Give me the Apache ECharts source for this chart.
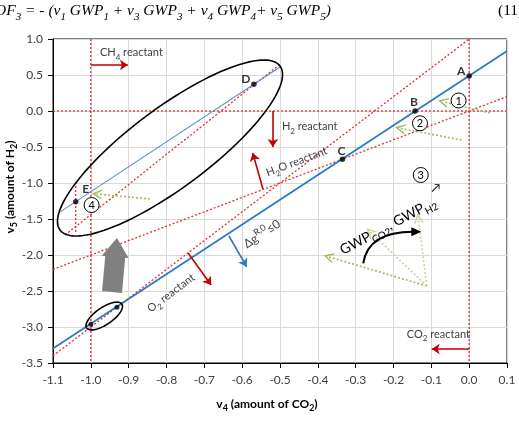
<!DOCTYPE html>
<html>
<head>
<meta charset="utf-8">
<script src="https://cdn.jsdelivr.net/npm/echarts@6/dist/echarts.min.js"></script>
<style>
html,body{margin:0;padding:0;background:#ffffff;}
#chart{width:519px;height:423px;}
</style>
</head>
<body>
<div id="chart"></div>
<script>
// ---------- axes ----------
const xTickLabels = ['-1.1','-1.0','-0.9','-0.8','-0.7','-0.6','-0.5','-0.4','-0.3','-0.2','-0.1','0.0','0.1'];
const yTickLabels = ['-3.5','-3.0','-2.5','-2.0','-1.5','-1.0','-0.5','0.0','0.5','1.0'];
const xMin = -1.1, xMax = 0.1, xStep = 0.1;
const yMin = -3.5, yMax = 1.0, yStep = 0.5;

// ---------- labelled points (nu4, nu5) ----------
const pointNames = ['A', 'B', 'C', 'D', 'E'];
const pointX = [0.000, -0.143, -0.335, -0.569, -1.040];
const pointY = [0.486, 0.000, -0.671, 0.371, -1.260];
const smallPointX = [-1.000, -0.931];
const smallPointY = [-2.962, -2.726];

// ---------- delta-g = 0 lines (blue) ----------
const dgLineX = [-1.1, 0.1];
const dgLineY = [-3.30, 0.835];
const dgLine2X = [-1.08, -0.50];
const dgLine2Y = [-1.398, 0.610];

// ---------- reactant boundaries (red dotted) ----------
const h2BoundX = [-1.1, 0.1],      h2BoundY = [0.0, 0.0];
const ch4BoundX = [-1.0, -1.0],    ch4BoundY = [1.0, -3.5];
const co2BoundX = [0.0, 0.0],      co2BoundY = [1.0, -3.5];
const h2oBoundX = [-1.1, 0.1],     h2oBoundY = [-2.2, 0.2];
const o2BoundX = [-1.1, 0.0],      o2BoundY = [-3.4, 1.0];
const case4BoundX = [-1.068, -0.503], case4BoundY = [-1.722, 0.639];
const eBoundX = [-1.040, -1.040],  eBoundY = [-0.986, -1.694];

// ---------- red arrows: CH4, H2, H2O, O2, CO2 ----------
const redArrowX1 = [-1.000, -0.519, -0.545, -0.743, 0.000];
const redArrowY1 = [0.639, 0.000, -1.083, -1.972, -3.306];
const redArrowX2 = [-0.902, -0.519, -0.572, -0.682, -0.099];
const redArrowY2 = [0.639, -0.500, -0.583, -2.417, -3.306];

// ---------- blue arrow (delta g <= 0 side) ----------
const blueArrowX = [-0.635, -0.588];
const blueArrowY = [-1.736, -2.163];

// ---------- green dotted arrows: 1, 2, 4 ----------
const greenArrowX1 = [0.055, -0.020, -0.844];
const greenArrowY1 = [-0.028, -0.403, -1.222];
const greenArrowX2 = [-0.069, -0.183, -0.9845];
const greenArrowY2 = [0.129, -0.240, -1.153];

// ---------- GWP fan ----------
const gwpOriginX = -0.112, gwpOriginY = -2.431;
const gwpTipX = [-0.372, -0.262, -0.1344];
const gwpTipY = [-2.024, -1.676, -1.490];

// ---------- annotations ----------
const ellipses = [
  {x1: -1.0815, y1: -1.653, x2: -0.500, y2: 0.625, ratio: 0.29},
  {x1: -1.011, y1: -3.014, x2: -0.918, y2: -2.681, ratio: 0.40}
];
const grayArrow = {x1: -0.944, y1: -2.514, x2: -0.931, y2: -1.764};
const blackCurve = {x1: -0.280, y1: -2.115, cx: -0.2674, cy: -1.676, x2: -0.1344, y2: -1.676};
const circledNums = [
  {t: '1', x: -0.028, y: 0.146},
  {t: '2', x: -0.130, y: -0.171},
  {t: '3', x: -0.128, y: -0.889},
  {t: '4', x: -0.998, y: -1.306}
];
const notes = [
  {text: '{n|CH}{s|4}{n| reactant}', x: -0.976, y: 0.810, rot: 0, align: 'left', size: 11},
  {text: '{n|H}{s|2}{n| reactant}', x: -0.495, y: -0.218, rot: 0, align: 'left', size: 11},
  {text: '{n|H}{s|2}{n|O reactant}', x: -0.456, y: -0.704, rot: 20.8, align: 'center', size: 11},
  {text: '{n|O}{s|2}{n| reactant}', x: -0.788, y: -2.528, rot: 37, align: 'center', size: 11},
  {text: '{n|CO}{s|2}{n| reactant}', x: -0.165, y: -3.101, rot: 0, align: 'left', size: 11},
  {text: '{n|\u0394g}{p|R,0}{n|\u22640}', x: -0.5476, y: -1.708, rot: 33.5, align: 'center', size: 12},
  {text: '{n|GWP}{s|CO2}{n|, GWP}{s|H2}', x: -0.2145, y: -1.597, rot: 28, align: 'center', size: 14, color: '#000'},
  {text: '{n|\u2197}', x: -0.0877, y: -1.069, rot: 0, align: 'center', size: 12, color: '#000'}
];
const pointLabelOffset = [[-8, -5], [-1, -9], [-1, -8], [-8, -5], [10, -13]];

// ---------- helpers ----------
const RED_DOT = '#e03030', RED = '#c00000', BLUE = '#2a7bc7', GREEN = '#9bbb59', GREEN_L = '#c3d69b';
function pairs(xs, ys) { return xs.map((x, i) => [x, ys[i]]); }
function fmt(labels, min, step) {
  return v => { const i = Math.round((v - min) / step); return labels[i] !== undefined ? labels[i] : ''; };
}
function dotted(xs, ys, color, width, z) {
  return {type: 'line', data: pairs(xs, ys), symbol: 'none', silent: true, animation: false, z: z || 3,
    lineStyle: {color: color, width: width || 1.3, type: [2, 2]}};
}
function makeRich(fs, fw, fam, col, style) {
  const sub = Math.round(fs * 0.72);
  return {
    n: {fontSize: fs, fontWeight: fw, fontFamily: fam, fill: col, fontStyle: style, lineHeight: Math.round(fs * 1.5), verticalAlign: 'middle'},
    s: {fontSize: sub, fontWeight: fw, fontFamily: fam, fill: col, fontStyle: style, lineHeight: sub, verticalAlign: 'bottom'},
    p: {fontSize: sub, fontWeight: fw, fontFamily: fam, fill: col, fontStyle: style, lineHeight: sub, verticalAlign: 'top'}
  };
}
const CHEVRON = 'path://M0,10 L6,0 L12,10 L10.2,10 L6,3.2 L1.8,10 Z';

const chart = echarts.init(document.getElementById('chart'), null, {renderer: 'canvas'});

const option = {
  animation: false,
  backgroundColor: '#ffffff',
  textStyle: {fontFamily: 'Lato'},
  grid: {left: 53, right: 12, top: 39, bottom: 60, show: true, borderColor: '#000', borderWidth: 1,
    containLabel: false, outerBoundsMode: 'none'},
  xAxis: {
    type: 'value', min: xMin, max: xMax, interval: xStep,
    axisLine: {show: true, onZero: false, lineStyle: {color: '#000', width: 1}},
    axisTick: {show: true, length: 5, lineStyle: {color: '#000'}},
    axisLabel: {margin: 11, color: '#404040', fontFamily: 'Lato', fontSize: 12, formatter: fmt(xTickLabels, xMin, xStep)},
    splitLine: {show: true, lineStyle: {color: '#d9d9d9', width: 1}}
  },
  yAxis: {
    type: 'value', min: yMin, max: yMax, interval: yStep,
    axisLine: {show: true, onZero: false, lineStyle: {color: '#000', width: 1}},
    axisTick: {show: true, length: 5, lineStyle: {color: '#000'}},
    axisLabel: {margin: 10, color: '#404040', fontFamily: 'Lato', fontSize: 12, formatter: fmt(yTickLabels, yMin, yStep)},
    splitLine: {show: true, lineStyle: {color: '#d9d9d9', width: 1}}
  },
  graphic: [
    {type: 'text', x: -5, y: 11, silent: true, style: {
      text: '{n|OF}{s|3}{n| = - (\u03bd}{s|1}{n| GWP}{s|1}{n| + \u03bd}{s|3}{n| GWP}{s|3}{n| + \u03bd}{s|4}{n| GWP}{s|4}{n|+ \u03bd}{s|5}{n| GWP}{s|5}{n|)}',
      align: 'left', verticalAlign: 'middle',
      rich: makeRich(15.5, 'normal', 'Liberation Serif', '#000', 'italic')}},
    {type: 'text', x: 498, y: 11, silent: true, style: {
      text: '(11)', align: 'left', verticalAlign: 'middle', fontFamily: 'Liberation Serif', fontSize: 15.5, fill: '#000'}},
    {type: 'text', x: 267, y: 404, silent: true, style: {
      text: '{n|v}{s|4}{n| (amount of CO}{s|2}{n|)}', align: 'center', verticalAlign: 'middle',
      rich: makeRich(12, 'bold', 'Lato', '#000', 'normal')}},
    {type: 'text', x: 10, y: 187, rotation: Math.PI / 2, silent: true, style: {
      text: '{n|v}{s|5}{n| (amount of H}{s|2}{n|)}', align: 'center', verticalAlign: 'middle',
      rich: makeRich(12, 'bold', 'Lato', '#000', 'normal')}}
  ],
  series: [
    dotted(h2BoundX, h2BoundY, RED_DOT),
    dotted(ch4BoundX, ch4BoundY, RED_DOT),
    dotted(co2BoundX, co2BoundY, RED_DOT),
    dotted(h2oBoundX, h2oBoundY, RED_DOT),
    dotted(o2BoundX, o2BoundY, RED_DOT),
    dotted(case4BoundX, case4BoundY, RED_DOT),
    dotted(eBoundX, eBoundY, RED_DOT),
    {type: 'line', data: pairs(dgLineX, dgLineY), symbol: 'none', silent: true, animation: false, z: 4,
      lineStyle: {color: BLUE, width: 1.8}},
    {type: 'line', data: pairs(dgLine2X, dgLine2Y), symbol: 'none', silent: true, animation: false, z: 4,
      lineStyle: {color: '#5b8fd1', width: 1.1}},
    {type: 'lines', coordinateSystem: 'cartesian2d', silent: true, animation: false, z: 5,
      symbol: ['none', 'arrow'], symbolSize: 8,
      lineStyle: {color: RED, width: 1.6, opacity: 1, curveness: 0},
      data: redArrowX1.map((x, i) => ({coords: [[x, redArrowY1[i]], [redArrowX2[i], redArrowY2[i]]]}))},
    {type: 'lines', coordinateSystem: 'cartesian2d', silent: true, animation: false, z: 5,
      symbol: ['none', 'arrow'], symbolSize: 8,
      lineStyle: {color: BLUE, width: 1.6, opacity: 1, curveness: 0},
      data: [{coords: pairs(blueArrowX, blueArrowY)}]},
    {type: 'lines', coordinateSystem: 'cartesian2d', silent: true, animation: false, z: 4,
      symbol: ['none', CHEVRON], symbolSize: 10,
      lineStyle: {color: GREEN, width: 1.6, opacity: 1, curveness: 0, type: [2, 2]},
      data: greenArrowX1.map((x, i) => ({coords: [[x, greenArrowY1[i]], [greenArrowX2[i], greenArrowY2[i]]]}))},
    {type: 'lines', coordinateSystem: 'cartesian2d', silent: true, animation: false, z: 4,
      symbol: ['none', CHEVRON], symbolSize: 10,
      lineStyle: {opacity: 1, curveness: 0, type: [2, 2], width: 1.6},
      data: gwpTipX.map((x, i) => ({coords: [[gwpOriginX, gwpOriginY], [x, gwpTipY[i]]],
        lineStyle: {color: i === 0 ? GREEN : GREEN_L}}))},
    {type: 'custom', silent: true, animation: false, z: 5,
      data: ellipses.map(e => [e.x1, e.y1]),
      renderItem: function (params, api) {
        const e = ellipses[params.dataIndex];
        const p1 = api.coord([e.x1, e.y1]), p2 = api.coord([e.x2, e.y2]);
        const cx = (p1[0] + p2[0]) / 2, cy = (p1[1] + p2[1]) / 2;
        const dx = (p2[0] - p1[0]) / 2, dy = (p2[1] - p1[1]) / 2;
        const a = Math.hypot(dx, dy), ux = dx / a, uy = dy / a, b = a * e.ratio;
        const pts = [];
        for (let i = 0; i < 120; i++) {
          const t = i / 120 * 2 * Math.PI;
          pts.push([cx + ux * a * Math.cos(t) - uy * b * Math.sin(t), cy + uy * a * Math.cos(t) + ux * b * Math.sin(t)]);
        }
        return {type: 'polygon', shape: {points: pts}, style: {fill: 'none', stroke: '#000', lineWidth: 1.6}};
      }},
    {type: 'custom', silent: true, animation: false, z: 5,
      data: [[grayArrow.x1, grayArrow.y1]],
      renderItem: function (params, api) {
        const b = api.coord([grayArrow.x1, grayArrow.y1]), t = api.coord([grayArrow.x2, grayArrow.y2]);
        const L = Math.hypot(t[0] - b[0], t[1] - b[1]);
        const ux = (t[0] - b[0]) / L, uy = (t[1] - b[1]) / L, nx = -uy, ny = ux;
        const headLen = 19, sw = 10, hw = 13.5;
        const h = [t[0] - ux * headLen, t[1] - uy * headLen];
        const pts = [
          [b[0] + nx * sw, b[1] + ny * sw], [h[0] + nx * sw, h[1] + ny * sw], [h[0] + nx * hw, h[1] + ny * hw],
          t, [h[0] - nx * hw, h[1] - ny * hw], [h[0] - nx * sw, h[1] - ny * sw], [b[0] - nx * sw, b[1] - ny * sw]
        ];
        const s = api.coord([blackCurve.x1, blackCurve.y1]), c = api.coord([blackCurve.cx, blackCurve.cy]),
              e = api.coord([blackCurve.x2, blackCurve.y2]);
        const ex = e[0] - c[0], ey = e[1] - c[1], el = Math.hypot(ex, ey);
        const vx = ex / el, vy = ey / el, wx = -vy, wy = vx;
        const tip = [e[0] + vx * 3, e[1] + vy * 3];
        const head = [tip, [tip[0] - vx * 10 + wx * 4.5, tip[1] - vy * 10 + wy * 4.5],
                      [tip[0] - vx * 10 - wx * 4.5, tip[1] - vy * 10 - wy * 4.5]];
        return {type: 'group', children: [
          {type: 'polygon', shape: {points: pts}, style: {fill: '#808080', stroke: 'none'}},
          {type: 'bezierCurve', shape: {x1: s[0], y1: s[1], x2: e[0] - vx * 5, y2: e[1] - vy * 5, cpx1: c[0], cpy1: c[1]},
            style: {fill: 'none', stroke: '#000', lineWidth: 2}},
          {type: 'polygon', shape: {points: head}, style: {fill: '#000'}}
        ]};
      }},
    {type: 'scatter', silent: true, animation: false, z: 6, symbolSize: 5.5,
      itemStyle: {color: '#000'},
      data: pointX.map((x, i) => ({value: [x, pointY[i]], name: pointNames[i],
        label: {show: true, position: 'inside', offset: pointLabelOffset[i], formatter: pointNames[i],
          color: '#000', fontWeight: 'bold', fontSize: 12, fontFamily: 'Lato'}}))},
    {type: 'scatter', silent: true, animation: false, z: 6, symbolSize: 5,
      itemStyle: {color: '#000'}, data: pairs(smallPointX, smallPointY)},
    {type: 'custom', silent: true, animation: false, z: 7,
      data: circledNums.map(c => [c.x, c.y]),
      renderItem: function (params, api) {
        const c = circledNums[params.dataIndex];
        const p = api.coord([c.x, c.y]);
        return {type: 'group', children: [
          {type: 'circle', shape: {cx: p[0], cy: p[1], r: 7.5}, style: {fill: '#fff', stroke: '#000', lineWidth: 1}},
          {type: 'text', x: p[0], y: p[1] + 0.5, style: {text: c.t, fontFamily: 'Lato', fontSize: 11, fill: '#000',
            align: 'center', verticalAlign: 'middle'}}
        ]};
      }},
    {type: 'custom', silent: true, animation: false, z: 7,
      data: notes.map(n => [n.x, n.y]),
      renderItem: function (params, api) {
        const n = notes[params.dataIndex];
        const p = api.coord([n.x, n.y]);
        return {type: 'text', x: p[0], y: p[1], rotation: n.rot * Math.PI / 180,
          style: {text: n.text, align: n.align, verticalAlign: 'middle',
            rich: makeRich(n.size, 'normal', 'Lato', n.color || '#404040', 'normal')}};
      }}
  ]
};
chart.setOption(option);
</script>
</body>
</html>
